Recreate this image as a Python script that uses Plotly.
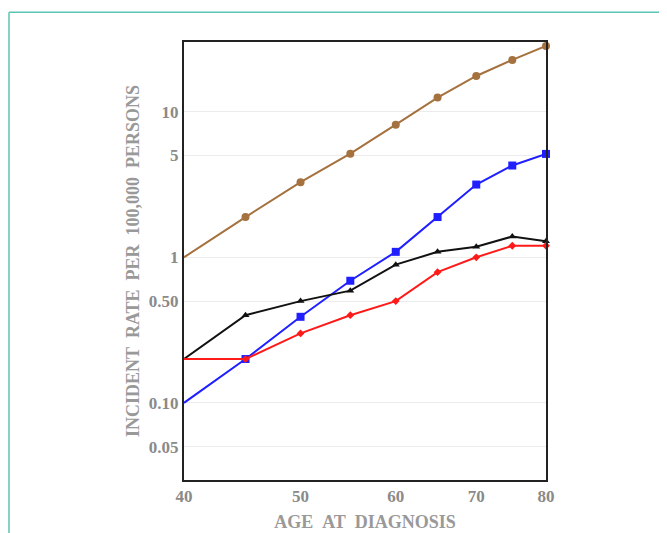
import plotly.graph_objects as go

ages = [40, 45, 50, 55, 60, 65, 70, 75, 80]
brown_vals = [1.0, 1.89, 3.28, 5.15, 8.15, 12.5, 17.6, 22.7, 28.3]
blue_vals = [0.10, 0.20, 0.39, 0.69, 1.09, 1.89, 3.16, 4.27, 5.13]
black_vals = [0.20, 0.40, 0.50, 0.59, 0.89, 1.09, 1.18, 1.39, 1.29]
red_vals = [0.20, 0.20, 0.30, 0.40, 0.50, 0.79, 1.0, 1.2, 1.2]

x_ticks = [40, 50, 60, 70, 80]
y_tickvals = [0.05, 0.1, 0.5, 1, 5, 10]
y_ticktext = ["0.05", "0.10", "0.50", "1", "5", "10"]

x_title = "AGE&nbsp;&nbsp;AT&nbsp;&nbsp;DIAGNOSIS"
y_title = "INCIDENT&nbsp;&nbsp;RATE&nbsp;&nbsp;PER&nbsp;&nbsp;100,000&nbsp;&nbsp;PERSONS"

series = [
    (brown_vals, "#a5713e", "circle", 8),
    (blue_vals, "#1f1fff", "square", 8),
    (black_vals, "#111111", "triangle-up", 7),
    (red_vals, "#ff1a1a", "diamond", 6),
]

fig = go.Figure()
for vals, color, sym, size in series:
    fig.add_trace(go.Scatter(
        x=ages, y=vals, mode="lines+markers",
        line=dict(color=color, width=2),
        marker=dict(symbol=sym, size=size, color=color),
        showlegend=False, cliponaxis=False,
    ))

font_family = "Liberation Serif"
gray = "#8a8a8a"

# page body has an 8px margin, so the figure is offset by 8px
L, T, R, B = 176, 34, 538, 474  # plot area in figure coordinates
W, H = 667, 533

fig.update_layout(
    width=W, height=H,
    margin=dict(l=L, r=W - R, t=T, b=H - B),
    paper_bgcolor="white", plot_bgcolor="white",
    font=dict(family=font_family, color=gray, size=17),
    xaxis=dict(
        type="log", range=[1.60206, 1.90309],
        tickvals=x_ticks, ticktext=[str(v) for v in x_ticks],
        showgrid=False, zeroline=False,
        showline=True, linecolor="#222222", linewidth=2, mirror=True,
        ticks="", tickfont=dict(family=font_family, size=17, color=gray, weight="bold"),
        title=dict(text="<b>" + x_title + "</b>", font=dict(family=font_family, size=18, color="#999999"), standoff=10),
    ),
    yaxis=dict(
        type="log", range=[-1.53, 1.479],
        tickvals=y_tickvals, ticktext=y_ticktext,
        showgrid=True, gridcolor="#ececec", gridwidth=1, zeroline=False,
        showline=True, linecolor="#222222", linewidth=2, mirror=True,
        ticks="", tickfont=dict(family=font_family, size=17, color=gray, weight="bold"),
        title=dict(text="<b>" + y_title + "</b>", font=dict(family=font_family, size=18, color="#999999"), standoff=5),
    ),
    shapes=[
        dict(type="line", xref="paper", yref="paper",
             x0=(1 - L) / (R - L), x1=(700 - L) / (R - L),
             y0=(B - 4) / (B - T), y1=(B - 4) / (B - T),
             line=dict(color="#5cc4b4", width=1.5)),
        dict(type="line", xref="paper", yref="paper",
             x0=(1 - L) / (R - L), x1=(1 - L) / (R - L),
             y0=(B - 4) / (B - T), y1=(B - 600) / (B - T),
             line=dict(color="#5cc4b4", width=1.5)),
    ],
)

fig.write_html("out.html")
